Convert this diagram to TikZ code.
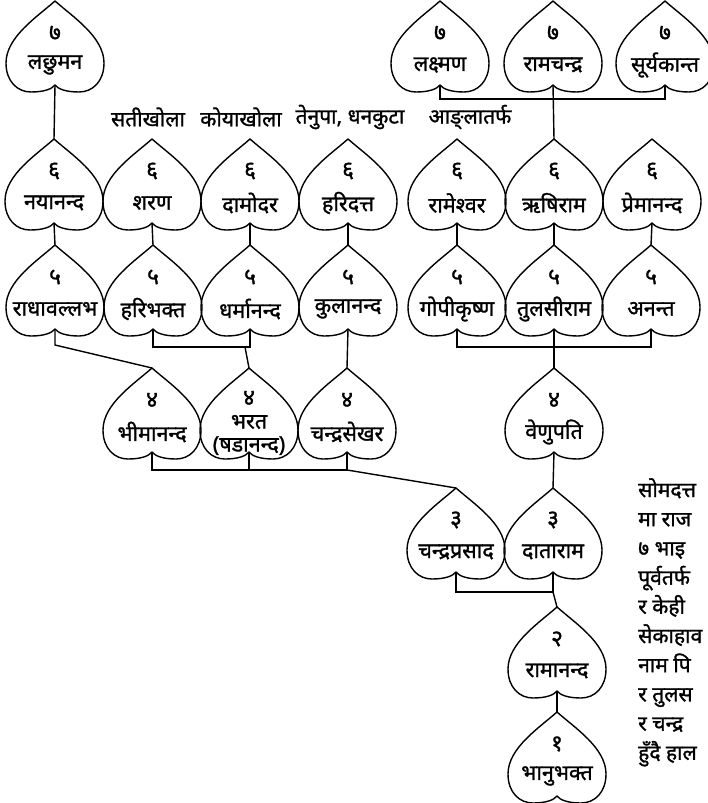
\documentclass[tikz,border=0pt]{standalone}
\usepackage{fontspec}
\newfontfamily\deva[Script=Devanagari, FakeBold=1.2]{Noto Sans}
\usetikzlibrary{calc}

\begin{document}
\begin{tikzpicture}[x=1pt, y=-1pt,
  leafline/.style={line width=1.4pt, line join=round},
  genno/.style={font=\deva\fontsize{23}{24}\selectfont, inner sep=0pt},
  member/.style={font=\deva\fontsize{21.5}{23}\selectfont, inner sep=0pt, align=center},
  place/.style={font=\deva\fontsize{21}{22}\selectfont, inner sep=0pt},
  note/.style={font=\deva\fontsize{21}{29.2}\selectfont, inner sep=0pt, align=left},
  link/.style={line width=1.4pt},
  leafdrop/.initial=0,
  leaflift/.initial=0,
  pics/leaf/.style n args={2}{code={
    \draw[leafline] (0,0) .. controls (-18,16) and (-49,36) .. (-49,62)
      .. controls (-49,80) and (-38,91) .. (-24,91) .. controls (-11,91) and (-3,88) .. (0,84)
      .. controls (3,88) and (11,91) .. (24,91) .. controls (38,91) and (49,80) .. (49,62)
      .. controls (49,36) and (18,16) .. (0,0) -- cycle;
    \coordinate (-top) at (0,0);
    \coordinate (-notch) at (0,84);
    \node[genno] (-no) at (0,{32-\pgfkeysvalueof{/tikz/leaflift}}) {#1};
    \node[member] (-who) at (0,{64+\pgfkeysvalueof{/tikz/leafdrop}}) {#2};
  }}
]
\useasboundingbox (0,0) rectangle (708,803);

\pic (L7a) at (55,1) {leaf={७}{लछुमन}};
\pic (R7a) at (440,1) {leaf={७}{लक्ष्मण}};
\pic (R7b) at (553,1) {leaf={७}{रामचन्द्र}};
\pic (R7c) at (665,1) {leaf={७}{सूर्यकान्त}};

\node[place] (p1) at (148,117) {सतीखोला};
\node[place] (p2) at (241,117) {कोयाखोला};
\node[place] (p3) at (350,117) {तेनुपा, धनकुटा};
\node[place] (p4) at (470,117) {आङ्लातर्फ};

\pic (L6a) at (54,139) {leaf={६}{नयानन्द}};
\pic (L6b) at (152,139) {leaf={६}{शरण}};
\pic (L6c) at (250,139) {leaf={६}{दामोदर}};
\pic (L6d) at (348,139) {leaf={६}{हरिदत्त}};
\pic (R6a) at (457,139) {leaf={६}{रामेश्वर}};
\pic (R6b) at (554,139) {leaf={६}{ऋषिराम}};
\pic (R6c) at (652,139) {leaf={६}{प्रेमानन्द}};

\pic (L5a) at (55,245) {leaf={५}{राधावल्लभ}};
\pic (L5b) at (153,245) {leaf={५}{हरिभक्त}};
\pic (L5c) at (250,245) {leaf={५}{धर्मानन्द}};
\pic (L5d) at (348,245) {leaf={५}{कुलानन्द}};
\pic (R5a) at (457,245) {leaf={५}{गोपीकृष्ण}};
\pic (R5b) at (554,245) {leaf={५}{तुलसीराम}};
\pic (R5c) at (651,245) {leaf={५}{अनन्त}};

\pic (L4a) at (152,368) {leaf={४}{भीमानन्द}};
\pic[leafdrop=3, leaflift=2] (L4b) at (249,368) {leaf={४}{भरत\\(षडानन्द)}};
\pic (L4c) at (347,368) {leaf={४}{चन्द्रसेखर}};
\pic (R4a) at (554,368) {leaf={४}{वेणुपति}};

\pic (M3a) at (456,488) {leaf={३}{चन्द्रप्रसाद}};
\pic (M3b) at (553,488) {leaf={३}{दाताराम}};
\pic (M2) at (557,607) {leaf={२}{रामानन्द}};
\pic (M1) at (557,712) {leaf={१}{भानुभक्त}};

\node[note, anchor=north west] (story) at (638,478) {सोमदत्त\\मा राज\\७ भाइ\\पूर्वतर्फ\\र केही\\सेकाहाव\\नाम पि\\र तुलस\\र चन्द्र\\हुँदै हाल};

\draw[link] (L7a-notch) -- (L6a-top);
\draw[link] (R7a-notch) -- ++(0,14) -| (R7c-notch);
\draw[link] (R7b-notch) -- (R6b-top);
\draw[link] (L6a-notch) -- (L5a-top);
\draw[link] (L6b-notch) -- (L5b-top);
\draw[link] (L6c-notch) -- (L5c-top);
\draw[link] (L6d-notch) -- (L5d-top);
\draw[link] (R6a-notch) -- (R5a-top);
\draw[link] (R6b-notch) -- (R5b-top);
\draw[link] (R6c-notch) -- (R5c-top);
\draw[link] (L5a-notch) -- ++(0,16) -- (L4a-top);
\draw[link] (L5b-notch) -- ++(0,18) -| (L5c-notch);
\draw[link] ($(L5c-notch)+(-5,18)$) -- (L4b-top);
\draw[link] (L5d-notch) -- (L4c-top);
\draw[link] (R5a-notch) -- ++(0,18) -| (R5c-notch);
\draw[link] (R5b-notch) -- (R4a-top);
\draw[link] (L4a-notch) -- ++(0,18) -| (L4c-notch);
\draw[link] (L4b-notch) -- ++(0,18);
\draw[link] (L4c-notch) ++(0,18) -- (M3a-top);
\draw[link] (R4a-notch) -- (M3b-top);
\draw[link] (M3a-notch) -- ++(0,20) -| (M3b-notch);
\draw[link] (M3b-notch) ++(0,20) -- (M2-top);
\draw[link] (M2-notch) -- (M1-top);
\end{tikzpicture}
\end{document}
